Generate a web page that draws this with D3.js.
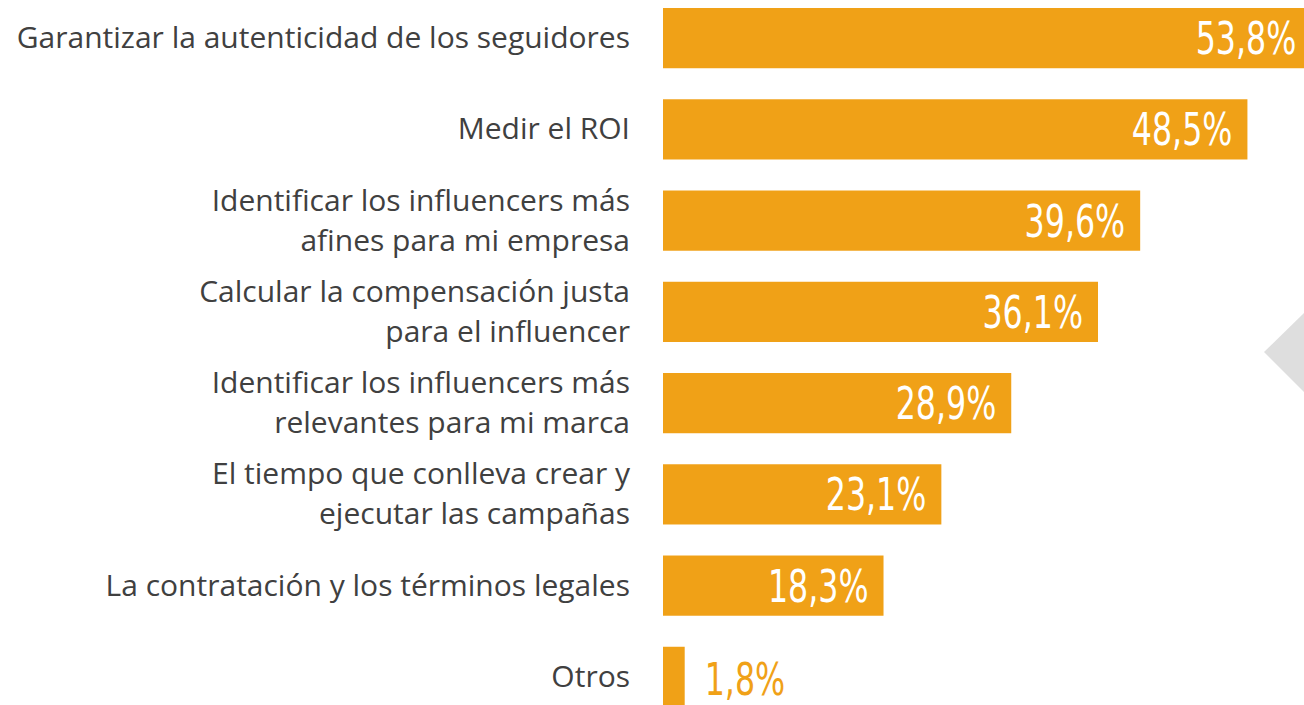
<!DOCTYPE html>
<html lang="es">
<head>
<meta charset="UTF-8">
<script src="https://d3js.org/d3.v7.min.js"></script>
<style>
  body { margin: 0; background: #fff; overflow: hidden; }
  svg { display: block; }
</style>
</head>
<body>
<div id="chart"></div>
<script>
// ---- data ----
const categories = [
  ["Garantizar la autenticidad de los seguidores"],
  ["Medir el ROI"],
  ["Identificar los influencers más", "afines para mi empresa"],
  ["Calcular la compensación justa", "para el influencer"],
  ["Identificar los influencers más", "relevantes para mi marca"],
  ["El tiempo que conlleva crear y", "ejecutar las campañas"],
  ["La contratación y los términos legales"],
  ["Otros"]
];
const values = [53.8, 48.5, 39.6, 36.1, 28.9, 23.1, 18.3, 1.8];
const valueLabels = ["53,8%", "48,5%", "39,6%", "36,1%", "28,9%", "23,1%", "18,3%", "1,8%"];

const W = 1304, H = 705;
const orange = "#f0a117";

const svg = d3.select("#chart").append("svg")
  .attr("width", W).attr("height", H);

// grey arrow shape on the right edge
svg.append("path")
  .attr("d", "M1264,352 L1304,313 L1304,392 Z")
  .attr("fill", "#dedede");

const x = d3.scaleLinear().domain([0, 100]).range([663, 663 + 1205]);
const y = d3.scaleBand()
  .domain(d3.range(values.length))
  .range([-7.5, 722.5])
  .paddingInner(0.34)
  .paddingOuter(0.17);

const rows = svg.selectAll("g.row")
  .data(values)
  .enter().append("g")
  .attr("class", "row");

rows.append("rect")
  .attr("x", x(0))
  .attr("y", (d, i) => y(i))
  .attr("width", d => x(d) - x(0))
  .attr("height", y.bandwidth())
  .attr("fill", orange);

// value labels: inside (white) for big bars, outside (orange) for small ones
// condensed look: squeeze the glyphs horizontally
rows.append("text")
  .attr("transform", (d, i) => {
    const tx = d > 5 ? x(d) - 15 : x(d) + 20;
    const ty = d > 5 ? y(i) + y.bandwidth() / 2 + 16 : y(i) + y.bandwidth() / 2 + 18;
    return `translate(${tx},${ty}) scale(0.8,1.02)`;
  })
  .attr("text-anchor", d => d > 5 ? "end" : "start")
  .attr("fill", d => d > 5 ? "#fff" : orange)
  .style("font-family", "'DejaVu Sans Condensed', 'DejaVu Sans', sans-serif")
  .style("font-size", "44px")
  .text((d, i) => valueLabels[i]);

// category labels, right aligned before the bars
rows.append("text")
  .attr("text-anchor", "end")
  .attr("fill", "#404040")
  .style("font-family", "'Open Sans', sans-serif")
  .style("font-size", "30px")
  .each(function(d, i) {
    const lines = categories[i];
    const cy = y(i) + y.bandwidth() / 2;
    const lh = 40;
    const t = d3.select(this);
    lines.forEach((ln, k) => {
      t.append("tspan")
        .attr("x", 630)
        .attr("y", cy + 10 + (k - (lines.length - 1) / 2) * lh)
        .text(ln);
    });
  });
</script>
</body>
</html>
